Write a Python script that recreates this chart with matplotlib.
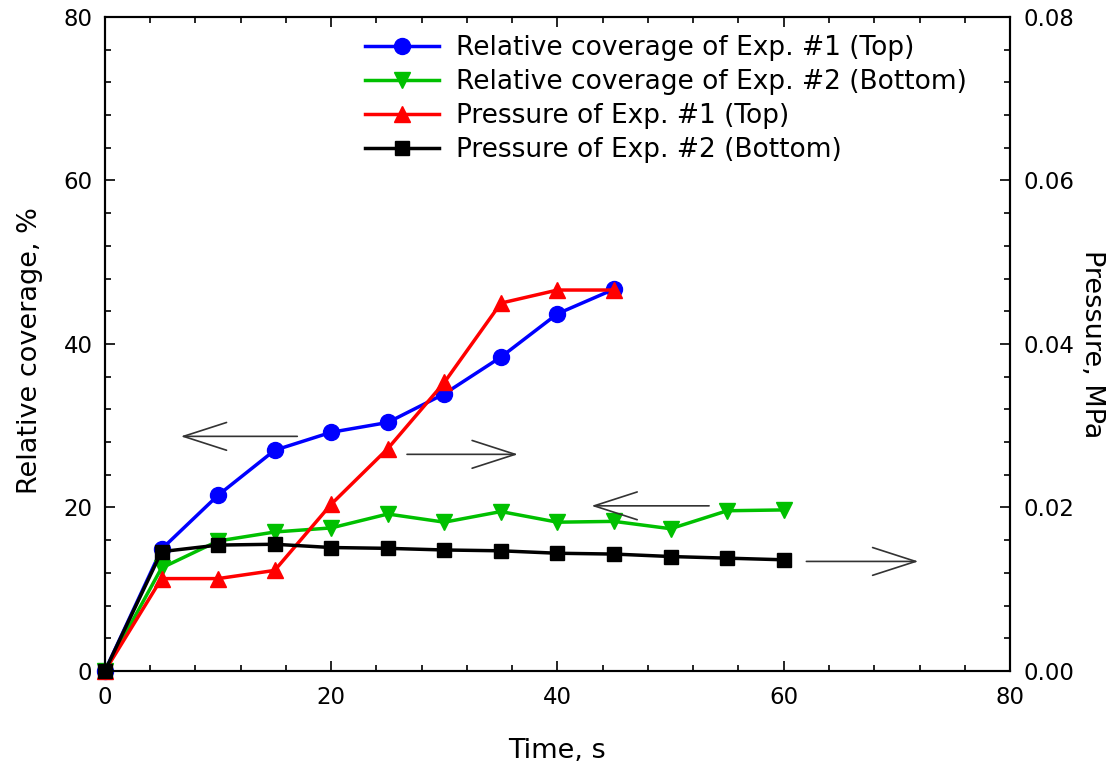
import matplotlib
matplotlib.use('Agg')
import matplotlib.pyplot as plt
from matplotlib.ticker import MultipleLocator, FormatStrFormatter

plt.rcParams['font.family'] = ['DejaVu Sans']

# ---------------- data ----------------
time_exp1 = [0, 5, 10, 15, 20, 25, 30, 35, 40, 45]
time_exp2 = [0, 5, 10, 15, 20, 25, 30, 35, 40, 45, 50, 55, 60]
coverage_exp1 = [0, 14.9, 21.5, 27.0, 29.2, 30.4, 33.9, 38.4, 43.7, 46.7]
coverage_exp2 = [0, 12.6, 15.9, 17.0, 17.5, 19.2, 18.2, 19.5, 18.2, 18.3, 17.4, 19.6, 19.7]
pressure_exp1 = [0, 0.0113, 0.0113, 0.0123, 0.0204, 0.0272, 0.0353, 0.0450, 0.0466, 0.0466]
pressure_exp2 = [0, 0.0146, 0.0154, 0.0155, 0.0151, 0.0150, 0.0148, 0.0147, 0.0144,
                 0.0143, 0.0140, 0.0138, 0.0136]

labels = ["Relative coverage of Exp. #1 (Top)",
          "Relative coverage of Exp. #2 (Bottom)",
          "Pressure of Exp. #1 (Top)",
          "Pressure of Exp. #2 (Bottom)"]

# arrows (tail -> tip) in time / relative-coverage units
arrow_tails = [(17.0, 28.7), (26.7, 26.5), (53.4, 20.2), (62.0, 13.4)]
arrow_tips = [(6.7, 28.7), (36.5, 26.5), (43.0, 20.2), (71.9, 13.4)]

# ---------------- figure ----------------
fig = plt.figure(figsize=(11.19, 7.73), dpi=100)
ax1 = fig.add_axes([0.0938, 0.132, 0.8088, 0.846])
ax2 = ax1.twinx()

lw = 2.5
l1, = ax1.plot(time_exp1, coverage_exp1, color='#0000FF', lw=lw, marker='o', ms=11.5, label=labels[0])
l2, = ax1.plot(time_exp2, coverage_exp2, color='#00C000', lw=lw, marker='v', ms=11.5, label=labels[1])
l3, = ax2.plot(time_exp1, pressure_exp1, color='#FF0000', lw=lw, marker='^', ms=11.5, label=labels[2])
l4, = ax2.plot(time_exp2, pressure_exp2, color='#000000', lw=lw, marker='s', ms=10.5, label=labels[3])

for l in (l1, l2, l3, l4):
    l.set_clip_on(False)

for tail, tip in zip(arrow_tails, arrow_tips):
    ax1.annotate('', xy=tip, xytext=tail,
                 arrowprops=dict(arrowstyle='->,head_length=3.1,head_width=1.0',
                                 color='#333333', lw=1.2, shrinkA=0, shrinkB=0,
                                 mutation_scale=10))

ax1.set_xlim(0, 80)
ax1.set_ylim(0, 80)
ax2.set_ylim(0, 0.08)

ax1.xaxis.set_major_locator(MultipleLocator(20))
ax1.xaxis.set_minor_locator(MultipleLocator(4))
ax1.yaxis.set_major_locator(MultipleLocator(20))
ax1.yaxis.set_minor_locator(MultipleLocator(4))
ax2.yaxis.set_major_locator(MultipleLocator(0.02))
ax2.yaxis.set_minor_locator(MultipleLocator(0.004))
ax2.yaxis.set_major_formatter(FormatStrFormatter('%.2f'))

ax1.tick_params(which='both', direction='in', top=True, right=False, labelsize=16.5, width=1.2)
ax1.tick_params(axis='x', pad=11)
ax1.tick_params(axis='y', pad=9)
ax1.tick_params(which='major', length=7)
ax1.tick_params(which='minor', length=4)
ax2.tick_params(which='both', direction='in', labelsize=16.5, pad=10, width=1.2)
ax2.tick_params(which='major', length=7)
ax2.tick_params(which='minor', length=4)

for ax in (ax1, ax2):
    for s in ax.spines.values():
        s.set_linewidth(1.5)

ax1.set_xlabel("Time, s", fontsize=19.5)
ax1.xaxis.set_label_coords(0.5, -0.103)
ax1.set_ylabel("Relative coverage, %", fontsize=19.5)
ax1.yaxis.set_label_coords(-0.068, 0.49)
ax2.set_ylabel("Pressure, MPa", fontsize=19.5, rotation=270, va='bottom')
ax2.yaxis.set_label_coords(1.076, 0.5)

ax2.legend(handles=[l1, l2, l3, l4], loc='upper left', bbox_to_anchor=(0.287, 0.972),
           frameon=False, fontsize=19, borderpad=0, borderaxespad=0,
           handlelength=2.8, handletextpad=0.65, labelspacing=0.3)

fig.savefig('out.png', dpi=100)
